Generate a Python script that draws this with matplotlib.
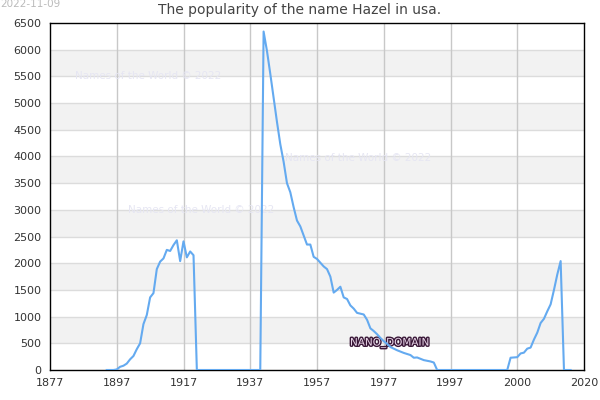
import matplotlib
matplotlib.use("Agg")
import matplotlib.pyplot as plt
import matplotlib.patheffects as pe

# x positions are slots on the chart's evenly spaced axis (tick every 20 slots)
tick_slots = [0, 20, 40, 60, 80, 100, 120, 140, 160]
tick_labels = ["1877", "1897", "1917", "1937", "1957", "1977", "1997", "2000", "2020"]

slots = list(range(17, 157))
values = [
    # slots 17-44
    0, 0, 0, 10, 60, 80, 120, 200, 262, 390, 500, 860, 1030, 1360, 1440,
    1890, 2030, 2090, 2250, 2230, 2340, 2430, 2040, 2410, 2110, 2220, 2150, 0,
    # slots 45-63
    0, 0, 0, 0, 0, 0, 0, 0, 0, 0, 0, 0, 0, 0, 0, 0, 0, 0, 0,
    # slots 64-116
    6340, 5980, 5550, 5100, 4650, 4230, 3900, 3500, 3330, 3050, 2800, 2690,
    2520, 2350, 2350, 2120, 2080, 2010, 1940, 1890, 1750, 1450, 1500, 1560,
    1360, 1330, 1210, 1150, 1070, 1055, 1040, 940, 780, 730, 670, 600, 540,
    490, 430, 400, 370, 345, 320, 300, 280, 230, 235, 210, 185, 172, 160, 140, 0,
    # slots 117-137
    0, 0, 0, 0, 0, 0, 0, 0, 0, 0, 0, 0, 0, 0, 0, 0, 0, 0, 0, 0, 0,
    # slots 138-156
    230, 235, 240, 310, 325, 400, 420, 570, 700, 880, 960, 1100, 1230, 1500,
    1790, 2040, 0, 0, 0,
]

y_ticks = list(range(0, 6501, 500))

fig = plt.figure(figsize=(6, 4), dpi=100)
ax = fig.add_axes([50/600, 1-370/400, 534/600, 347/400])

for i, lo in enumerate(y_ticks[:-1]):
    if i % 2 == 1:
        ax.axhspan(lo, lo + 500, color="#f2f2f2", zorder=0, lw=0)
for y in y_ticks[1:-1]:
    ax.axhline(y, color="#dcdcdc", lw=1, zorder=1)
for x in tick_slots[1:-1]:
    ax.axvline(x, color="#c8c8c8", lw=1, zorder=1)

ax.plot(slots, values, color="#64aaf0", lw=1.5, zorder=3)

ax.set_xlim(0, 160)
ax.set_ylim(0, 6500)
ax.set_xticks(tick_slots)
ax.set_xticklabels(tick_labels)
ax.set_yticks(y_ticks)
ax.set_yticklabels([str(v) for v in y_ticks])
ax.tick_params(length=0, labelsize=8, colors="#333333", pad=6)
for s in ax.spines.values():
    s.set_color("black")
    s.set_linewidth(1)

fig.text(0.5, 1-10/400, "The popularity of the name Hazel in usa.", ha="center", va="center",
         fontsize=10, color="#444444")
fig.text(0.0, 1-4/400, "2022-11-09", ha="left", va="center", fontsize=7.5, color="#bbbbbb")

wm = "Names of the World © 2022"
for (px, py) in [(75, 76), (128, 210), (285, 158)]:
    ax.text((px - 50)/534, (370 - py)/347, wm, transform=ax.transAxes, ha="left", va="center",
            fontsize=7.5, color="#e6e6f3", zorder=2)

ax.text((350 - 50)/534, (370 - 343)/347, "NANO_DOMAIN", transform=ax.transAxes,
        ha="left", va="center", fontsize=7.5, color="#ead8ea", zorder=2.5,
        path_effects=[pe.withStroke(linewidth=2, foreground="#3a1838")])

fig.savefig("out.png", dpi=100)
